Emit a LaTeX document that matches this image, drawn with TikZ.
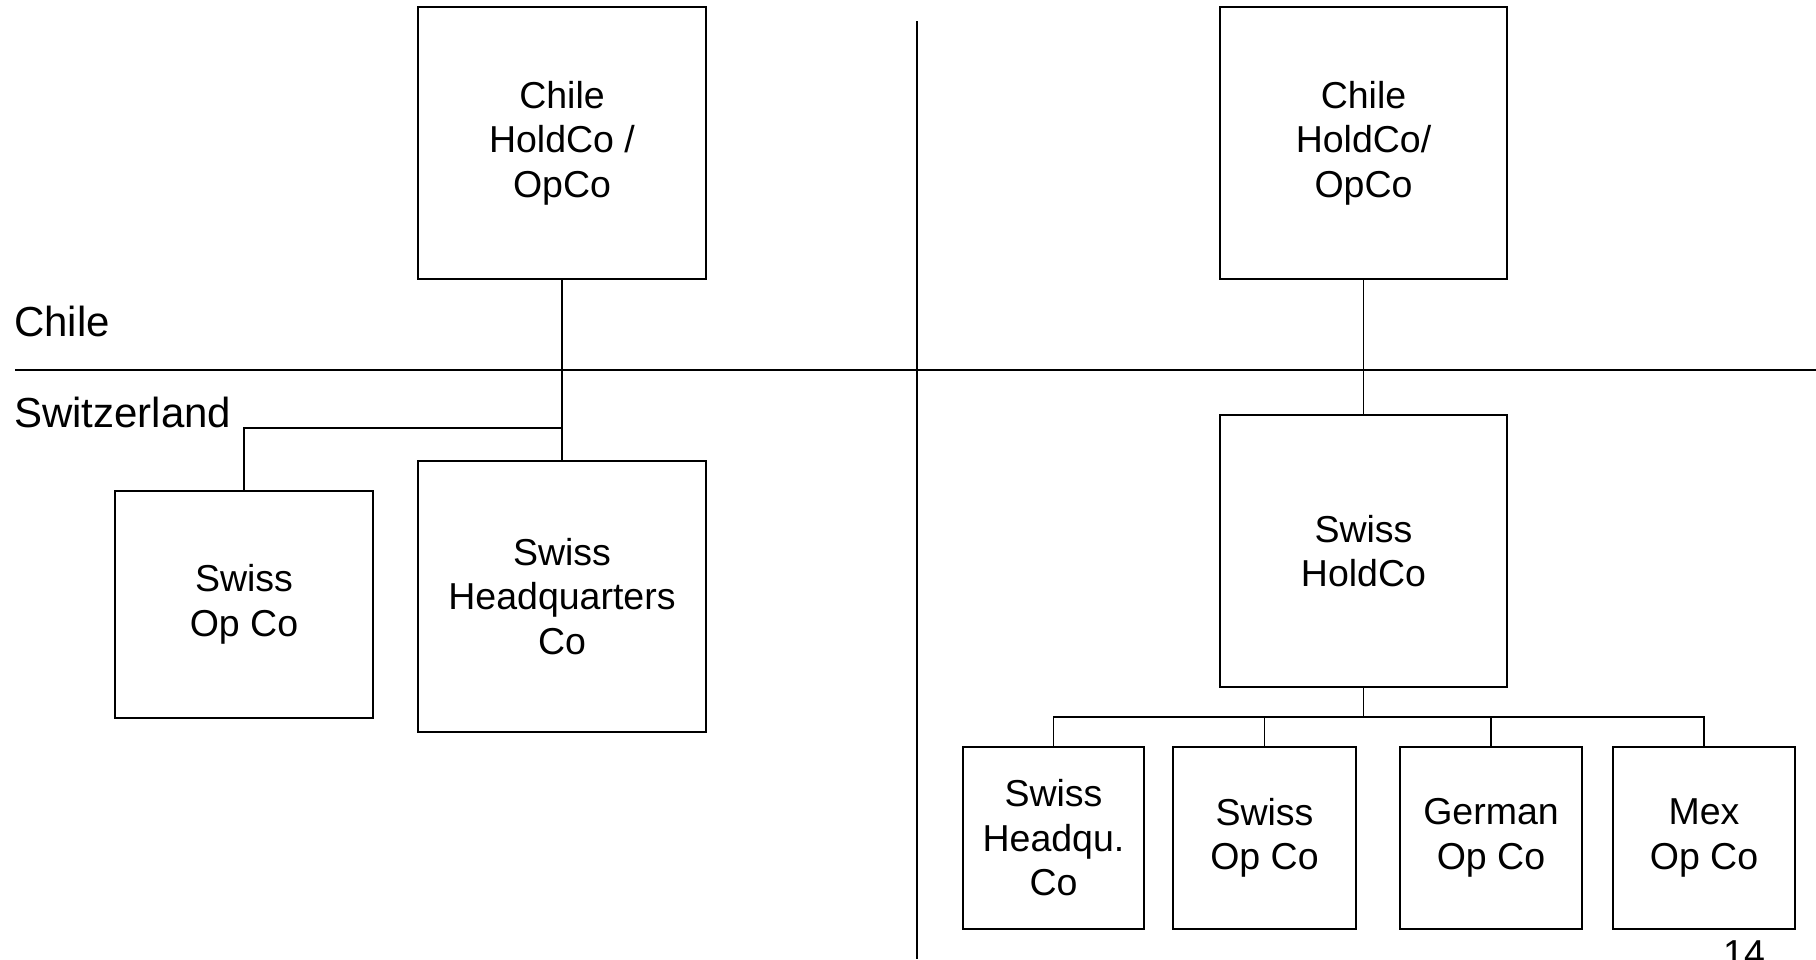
\documentclass[tikz,border=0pt]{standalone}
\usepackage{fontspec}
\setmainfont{Liberation Sans}
\begin{document}
\begin{tikzpicture}[x=1pt,y=-1pt,
  entity/.style={draw, line width=2pt, inner sep=0pt, align=center,
    font=\fontsize{37.5}{44.5}\selectfont},
  link/.style={line width=1.8pt},
  rule/.style={line width=1.8pt},
  lbl/.style={inner sep=0pt, anchor=base west, font=\fontsize{42}{48}\selectfont}]
  \useasboundingbox (0,0) rectangle (1816,959);

  % country separator and divider between the two structures
  \coordinate (ruleL) at (15,370);
  \coordinate (ruleR) at (1816,370);
  \coordinate (divTop) at (917,21);
  \coordinate (divBot) at (917,959);
  \draw[rule] (ruleL) -- (ruleR);
  \draw[rule] (divTop) -- (divBot);

  \node[lbl] (chileLbl) at (14,336) {Chile};
  \node[lbl] (swissLbl) at (14,427) {Switzerland};

  % left structure
  \node[entity, minimum width=288pt, minimum height=272pt] (chileL) at (562,143) {Chile\\HoldCo /\\OpCo};
  \node[entity, minimum width=258pt, minimum height=227pt] (opL) at (244,604.5) {Swiss\\Op Co};
  \node[entity, minimum width=288pt, minimum height=271pt] (hqL) at (562,596.5) {Swiss\\Headquarters\\Co};
  \coordinate (brL) at (562,428);
  \draw[link] (chileL.south) -- (hqL.north);
  \draw[link] (opL.north) |- (brL);

  % right structure
  \node[entity, minimum width=287pt, minimum height=272pt] (chileR) at (1363.5,143) {Chile\\HoldCo/\\OpCo};
  \node[entity, minimum width=287pt, minimum height=272pt] (holdR) at (1363.5,551) {Swiss\\HoldCo};
  \node[entity, minimum width=181pt, minimum height=182pt] (hqR) at (1053.5,838) {Swiss\\Headqu.\\Co};
  \node[entity, minimum width=183pt, minimum height=182pt] (opR) at (1264.5,838) {Swiss\\Op Co};
  \node[entity, minimum width=182pt, minimum height=182pt] (deR) at (1491,838) {German\\Op Co};
  \node[entity, minimum width=182pt, minimum height=182pt] (mxR) at (1704,838) {Mex\\Op Co};
  \coordinate (busR) at (1363.5,717);
  \draw[link] (chileR.south) -- (holdR.north);
  \draw[link] (holdR.south) -- (busR);
  \draw[link] (hqR.north) |- (busR) -| (mxR.north);
  \draw[link] (opR.north) -- (opR.north |- busR);
  \draw[link] (deR.north) -- (deR.north |- busR);

  % page number
  \node[lbl, font=\fontsize{37.5}{44}\selectfont] (pageNo) at (1723,966) {14};
\end{tikzpicture}
\end{document}
